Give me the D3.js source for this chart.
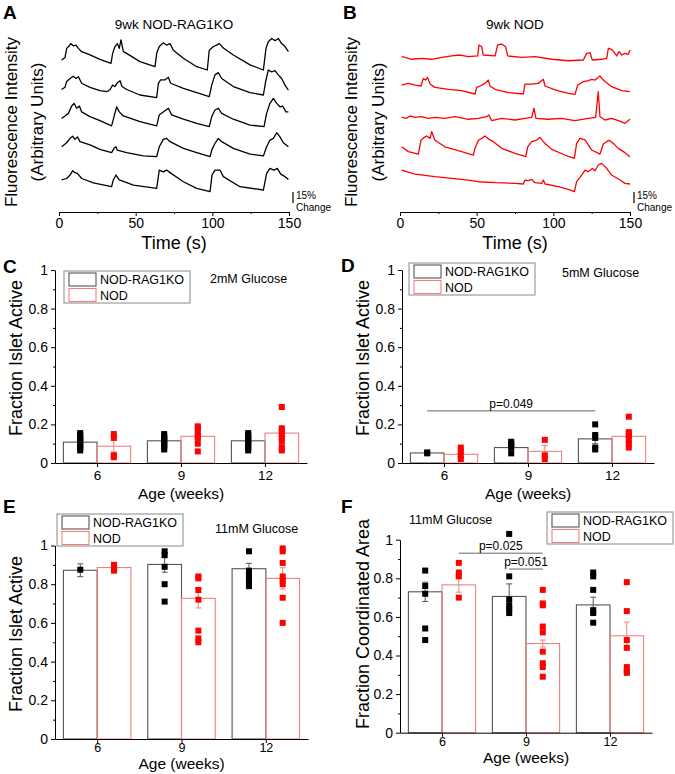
<!DOCTYPE html>
<html><head><meta charset="utf-8">
<script src="https://cdn.jsdelivr.net/npm/d3@7"></script>
<style>body{margin:0;background:#fff} svg{display:block} text{font-family:"Liberation Sans",Arial,sans-serif;fill:#000}</style>
</head><body><svg id="c" width="675" height="774"></svg>
<script>
// ---------------- DATA ----------------
// Calcium traces: [time (s), % change above trace minimum]
const tracesRag = [
 [[1.7,13.6],[3.9,17],[5.0,29.5],[6.3,32],[7.6,36],[9.3,33],[11.1,34],[12.6,29.5],[14.8,25],[20.2,20.5],[26.7,14.5],[33.9,9],[35.0,22.7],[36.5,32],[38.0,36],[39.3,29.5],[40.4,41],[42.0,25],[44.1,22.7],[52.8,11.4],[62.6,4.5],[63.7,22.7],[65.4,32],[68.0,37],[70.2,34],[72.4,36],[74.6,27],[81.1,16],[89.8,4.5],[96.7,0],[98.0,27],[100.7,32],[102.8,34],[104.6,36],[107.2,30],[113.7,20.5],[124.6,7],[133.3,0],[135.0,29.5],[136.5,38.6],[138.7,43],[140.9,40],[143.0,43],[145.2,36],[147.4,32],[149.6,25]],
 [[1.7,12],[3.9,15],[5.0,23],[7.2,27],[9.3,30],[11.1,27],[12.6,29.5],[14.8,20.5],[20.2,15],[26.7,10.5],[31.1,9],[33.3,12],[35.0,18],[36.5,16],[38.0,21],[39.8,24],[41.1,16],[44.1,12],[52.8,4.5],[63.7,1],[64.8,20.5],[66.3,25],[69.1,25],[71.3,28.6],[72.8,20.5],[81.1,13.6],[89.8,7.7],[98.0,2.3],[99.6,18],[101.7,32],[103.9,35],[106.1,27],[113.7,16],[124.6,7.7],[133.3,4.5],[134.8,23],[136.5,38.6],[138.7,36],[140.9,37.7],[143.0,32],[145.2,27],[147.4,18],[149.6,11]],
 [[1.7,12],[3.9,15.5],[6.1,19],[8.3,29],[9.8,32.7],[11.5,26],[13.3,29],[14.8,21],[20.2,14.5],[26.7,9],[34.3,2],[35.9,14.5],[37.6,28],[39.3,21],[42.0,15.5],[52.8,7.7],[63.7,2],[65.4,17],[68.0,21],[71.3,26],[73.5,17],[81.1,11],[89.8,5.5],[98.0,1],[99.6,14.5],[101.7,23.6],[103.9,26],[106.1,19],[113.7,11],[124.6,3],[133.7,1],[135.4,19],[137.6,32.7],[139.8,39.5],[142.0,32.7],[144.1,28],[145.9,29],[148.0,21],[149.6,21]],
 [[1.7,13.6],[5.0,19],[7.2,25],[8.9,28],[10.4,23.6],[12.0,27],[13.7,20.5],[20.2,16],[26.7,10],[34.3,5.5],[35.9,11.4],[37.2,13.6],[38.0,9],[44.1,5.5],[55.0,1],[63.7,0],[65.4,13.6],[68.0,23.6],[70.2,25],[72.4,20.5],[81.1,11.4],[89.8,5.5],[98.5,0],[99.8,10],[101.7,18],[103.9,25],[106.1,20.5],[113.7,11.4],[124.6,3.6],[133.3,1],[135.4,13.6],[137.6,22.7],[139.8,25],[142.0,32.7],[144.1,27],[146.3,19],[149.6,13.6]],
 [[1.7,16],[5.0,18],[7.2,22.7],[8.9,28.6],[10.4,26],[12.0,25],[14.8,18],[22.4,12],[34.3,6.8],[35.4,16],[37.2,22.7],[39.3,16],[48.5,9],[63.7,4.5],[65.4,29.5],[68.0,27],[70.2,29.5],[72.4,26],[81.1,13.6],[89.8,4.5],[98.5,0],[99.8,22.7],[101.7,29.5],[105.0,29.5],[107.2,20.5],[118.0,6.8],[133.3,2.3],[135.4,25],[137.6,31.8],[140.2,29.5],[142.4,31.8],[144.6,24],[147.4,20.5],[149.6,16.8]]
];
const tracesNod = [
 [[1.1,4.5],[3.3,3.6],[7.6,1],[14.1,2.3],[20.7,1],[27.2,3.6],[33.7,5.5],[39.1,6.8],[44.6,4.5],[50.7,5.5],[51.5,20.5],[53.3,18],[54.3,6.8],[62.0,5.5],[63.7,20.5],[66.3,21.8],[68.9,18],[70.2,5.5],[79.3,3.6],[88.0,4.5],[98.9,1],[109.8,-1],[119.6,0],[121.7,9],[123.9,10],[125.4,0],[131.5,1],[134.8,2.3],[135.9,16],[138.0,14.5],[140.2,9],[141.3,5.5],[142.8,11.4],[144.6,6.8],[146.7,9],[148.9,7.7],[150.0,13.6]],
 [[1.1,12],[5.4,14.5],[9.8,12],[13.7,10.9],[15.2,21],[16.7,19],[18.0,22.7],[19.6,13.6],[22.8,9],[31.5,6.4],[40.2,4.5],[48.9,0],[50.0,9],[52.2,10.9],[55.4,14.5],[57.6,19],[58.7,10.9],[62.0,6.4],[70.7,1.8],[80.4,0],[81.5,13.6],[85.9,13.6],[90.2,14.5],[93.5,20],[94.6,10.9],[101.1,5.5],[109.8,1],[114.1,-0.5],[115.9,12.3],[119.6,16.8],[122.8,18.2],[125.0,20],[127.2,19],[130.4,24.5],[132.6,19],[138.0,10],[144.6,4.5],[150.0,3.2]],
 [[1.1,8],[4.3,6.8],[6.5,10],[9.8,8],[14.1,9],[18.5,6.8],[22.8,8],[29.3,6.8],[35.9,9],[44.6,5.5],[51.1,6.8],[56.5,9],[58.0,11.4],[59.8,3.6],[66.3,6.8],[75.0,4.5],[81.5,6.8],[85.9,8],[87.4,20.5],[88.7,6.8],[96.7,5.5],[105.4,6.8],[114.1,3.6],[122.8,6.8],[127.6,8],[129.3,43],[130.4,9],[133.7,4.5],[138.0,6.8],[142.4,3.6],[146.7,0],[150.0,5.5]],
 [[1.1,18],[5.4,11.4],[12.0,8],[13.7,27],[15.9,30.9],[17.4,32.7],[19.6,29.5],[20.7,38.6],[22.8,27],[29.3,18],[40.2,11.4],[47.8,6.8],[48.9,15.9],[51.1,27],[53.3,29.5],[55.4,32.7],[58.0,28.2],[60.9,25],[66.3,15.9],[75.0,9],[82.0,4.5],[83.3,18],[85.9,25],[89.1,27],[91.3,30.9],[93.5,25],[98.9,14.5],[107.6,6.8],[113.7,2.3],[115.2,22.7],[117.4,29.5],[120.7,27.3],[125.0,13.6],[130.4,8],[132.6,21.8],[134.8,25],[136.3,27],[139.1,22.7],[142.4,15.9],[146.7,10],[150.0,4.5]],
 [[1.1,29.5],[9.8,24],[22.8,20.5],[33.7,18.2],[44.6,15.9],[51.1,13.6],[62.0,12.3],[75.0,11.4],[80.4,10.5],[81.5,15.9],[83.7,15],[85.9,16.8],[88.0,12.3],[92.4,11.4],[93.5,15.9],[94.6,10.5],[103.3,6.8],[109.8,3.2],[113.7,0],[115.2,13.6],[118.5,22.7],[120.7,29.5],[122.8,27.3],[125.4,31.8],[127.2,28.6],[129.3,36.4],[131.5,38.6],[134.8,31.8],[138.0,22.7],[143.5,15.9],[146.7,11.4],[150.0,10.5]]
];
const timeTicks = [0, 50, 100, 150];
const scaleBarPct = 15;

// Bar charts: ages and series
const ages = [6, 9, 12];
const seriesNames = ["NOD-RAG1KO", "NOD"];
const yTicks = [0, 0.2, 0.4, 0.6, 0.8, 1];

// C: 2mM glucose, fraction islet active
const cMeanRag = [0.108, 0.115, 0.115];
const cSemRag  = [0.012, 0.010, 0.012];
const cMeanNod = [0.087, 0.138, 0.155];
const cSemNod  = [0.030, 0.018, 0.028];
const cPtsRag = [[0.155,0.145,0.135,0.125,0.115,0.105,0.095,0.085,0.075,0.065],[0.15,0.14,0.13,0.12,0.11,0.10,0.09,0.08,0.07],[0.155,0.145,0.135,0.125,0.115,0.105,0.095,0.085,0.075,0.065]];
const cPtsNod = [[0.15,0.13,0.04,0.03],[0.19,0.18,0.16,0.14,0.13,0.10,0.06],[0.29,0.18,0.165,0.15,0.13,0.11,0.08,0.065]];

// D: 5mM glucose
const dMeanRag = [0.052, 0.080, 0.125];
const dSemRag  = [0.004, 0.012, 0.025];
const dMeanNod = [0.045, 0.060, 0.138];
const dSemNod  = [0.012, 0.030, 0.025];
const dPtsRag = [[0.055,0.05],[0.11,0.10,0.09,0.08,0.05],[0.20,0.145,0.13,0.08,0.07]];
const dPtsNod = [[0.08,0.06,0.04,0.02],[0.12,0.04,0.02],[0.24,0.16,0.15,0.14,0.12,0.10,0.08]];

// E: 11mM glucose, fraction islet active
const eMeanRag = [0.872, 0.902, 0.880];
const eSemRag  = [0.033, 0.040, 0.028];
const eMeanNod = [0.886, 0.727, 0.830];
const eSemNod  = [0.010, 0.050, 0.055];
const ePtsRag = [[0.875],[0.97,0.95,0.89,0.80,0.71],[0.97,0.87,0.85,0.83,0.81,0.79]];
const ePtsNod = [[0.90,0.89,0.88,0.87],[0.84,0.83,0.77,0.72,0.56,0.52,0.50],[0.985,0.97,0.91,0.84,0.82,0.80,0.73,0.60]];

// F: 11mM glucose, fraction coordinated area
const fMeanRag = [0.730, 0.706, 0.662];
const fSemRag  = [0.050, 0.065, 0.040];
const fMeanNod = [0.766, 0.462, 0.502];
const fSemNod  = [0.038, 0.018, 0.072];
const fPtsRag = [[0.84,0.76,0.72,0.54,0.48],[1.03,0.81,0.69,0.66,0.64,0.62],[0.83,0.81,0.74,0.635,0.62,0.57]];
const fPtsNod = [[0.88,0.83,0.81,0.70],[0.74,0.67,0.66,0.55,0.52,0.42,0.36,0.34,0.29],[0.78,0.63,0.48,0.44,0.34,0.32,0.31]];

// significance brackets: [from, to, value, label]
const dSig = [[ {age:6,s:0}, {age:12,s:0}, 0.27, "p=0.049" ]];
const fSig = [[ {age:6,s:1}, {age:9,s:1}, 0.93, "p=0.025" ], [ {age:9,s:0}, {age:9,s:1}, 0.848, "p=0.051" ]];

// ---------------- DRAWING ----------------
const svg = d3.select("#c");
const RED = "#ff0000";
const RED_EDGE = "#f08080";
const GRAY_EDGE = "#555";

function txt(g, x, y, s, size, opts={}) {
  const t = g.append("text").attr("x", x).attr("y", y).text(s).style("font-size", size + "px");
  if (opts.anchor) t.attr("text-anchor", opts.anchor);
  if (opts.bold) t.style("font-weight", "bold");
  if (opts.mid) t.attr("dominant-baseline", "central");
  if (opts.rot) t.attr("transform", `rotate(-90,${x},${y})`);
  return t;
}

function tracePanel(o) {
  const g = svg.append("g");
  const x = d3.scaleLinear().domain([0, 150]).range([o.x0, o.x1]);
  const pxPerPct = 11 / 15;
  o.traces.forEach((tr, i) => {
    const y = d3.scaleLinear().domain([0, 15]).range([o.bases[i], o.bases[i] - 15 * pxPerPct]);
    g.append("path").datum(tr)
      .attr("d", d3.line().x(d => x(d[0])).y(d => y(d[1])))
      .attr("fill", "none").attr("stroke", o.color).attr("stroke-width", 1.3).attr("stroke-linejoin", "round");
  });
  // scale bar
  const ys = d3.scaleLinear().domain([0, 15]).range([203, 203 - 15 * pxPerPct]);
  g.append("line").attr("x1", o.x1 + 4).attr("x2", o.x1 + 4).attr("y1", ys(0)).attr("y2", ys(scaleBarPct))
    .attr("stroke", "#000").attr("stroke-width", 1.2);
  txt(g, o.x1 + 7, 199, scaleBarPct + "%", 10);
  txt(g, o.x1 + 7, 211, "Change", 10);
  // axis
  const ax = g.append("g").attr("transform", `translate(0,212)`)
    .call(d3.axisBottom(x).tickValues(timeTicks).tickSize(4).tickSizeOuter(0).tickPadding(2));
  ax.selectAll("text").style("font-size", "14px").style("font-family", '"Liberation Sans",Arial,sans-serif');
  ax.selectAll("line,path").attr("stroke", "#000");
  g.append("g").attr("transform", `translate(0,212)`)
    .call(d3.axisBottom(x).tickValues([25, 75, 125]).tickSize(2).tickFormat(""))
    .call(a => a.select(".domain").remove());
  txt(g, (o.x0 + o.x1) / 2, 249, "Time (s)", 18, {anchor: "middle"});
  txt(g, (o.x0 + o.x1) / 2, 29, o.title, 13.5, {anchor: "middle"});
  txt(g, o.lx1, 122, "Fluorescence Intensity", 17, {anchor: "middle", mid: true, rot: true});
  txt(g, o.lx2, 122, "(Arbitrary Units)", 17, {anchor: "middle", mid: true, rot: true});
  txt(g, o.lx1 - 8, 19, o.letter, 19, {bold: true});
}

tracePanel({x0: 59, x1: 289, traces: tracesRag, bases: [70, 98.3, 127.3, 156.7, 191.7], color: "#000",
  title: "9wk NOD-RAG1KO", lx1: 11, lx2: 37, letter: "A"});
tracePanel({x0: 400, x1: 630, traces: tracesNod, bases: [60, 94, 123.3, 160, 191.7], color: RED,
  title: "9wk NOD", lx1: 351, lx2: 378, letter: "B"});

function barPanel(o) {
  const g = svg.append("g");
  const x = d3.scaleLinear().domain([4.5, 13.5]).range([o.x0, o.x1]);
  const y = d3.scaleLinear().domain([0, 1]).range([o.y0, o.y1]);
  const bw = 1.2;
  const series = [
    {mean: o.meanRag, sem: o.semRag, pts: o.ptsRag, off: -bw, edge: GRAY_EDGE, dot: "#000", err: "#555"},
    {mean: o.meanNod, sem: o.semNod, pts: o.ptsNod, off: 0, edge: RED_EDGE, dot: RED, err: RED_EDGE}
  ];
  const cx = (a, s) => x(a + series[s].off + bw / 2);
  series.forEach((s, si) => {
    ages.forEach((a, i) => {
      g.append("rect").attr("x", x(a + s.off)).attr("width", x(a + s.off + bw) - x(a + s.off))
        .attr("y", y(s.mean[i])).attr("height", y(0) - y(s.mean[i]))
        .attr("fill", "none").attr("stroke", s.edge).attr("stroke-width", 1.1);
    });
  });
  series.forEach((s, si) => {
    ages.forEach((a, i) => {
      const c = cx(a, si);
      const lo = y(s.mean[i] - s.sem[i]), hi = y(s.mean[i] + s.sem[i]);
      g.append("line").attr("x1", c).attr("x2", c).attr("y1", lo).attr("y2", hi).attr("stroke", s.err).attr("stroke-width", 1);
      [lo, hi].forEach(yy => g.append("line").attr("x1", c - 3).attr("x2", c + 3).attr("y1", yy).attr("y2", yy)
        .attr("stroke", s.err).attr("stroke-width", 1));
    });
  });
  series.forEach((s, si) => {
    ages.forEach((a, i) => {
      g.selectAll(null).data(s.pts[i]).enter().append("rect")
        .attr("x", cx(a, si) - 3).attr("y", d => y(d) - 3).attr("width", 6).attr("height", 6).attr("fill", s.dot);
    });
  });
  // significance
  (o.sig || []).forEach(sg => {
    const xa = cx(sg[0].age, sg[0].s), xb = cx(sg[1].age, sg[1].s), yy = y(sg[2]);
    g.append("line").attr("x1", xa).attr("x2", xb).attr("y1", yy).attr("y2", yy).attr("stroke", "#666").attr("stroke-width", 1);
    txt(g, (xa + xb) / 2, yy - 3, sg[3], 12, {anchor: "middle"});
  });
  // axes
  const fmt = d => (d === 0 ? "0" : d === 1 ? "1" : d3.format(".1f")(d));
  const ay = g.append("g").attr("transform", `translate(${o.x0},0)`)
    .call(d3.axisLeft(y).tickValues(yTicks).tickFormat(fmt).tickSize(4).tickSizeOuter(0).tickPadding(3));
  g.append("g").attr("transform", `translate(${o.x0},0)`)
    .call(d3.axisLeft(y).tickValues([0.1, 0.3, 0.5, 0.7, 0.9]).tickSize(2).tickFormat(""))
    .call(a => a.select(".domain").remove());
  const axx = g.append("g").attr("transform", `translate(0,${o.y0})`)
    .call(d3.axisBottom(x).tickValues(ages).tickSize(4).tickSizeOuter(0).tickPadding(o.xpad));
  [ay, axx].forEach(a => {
    a.selectAll("text").style("font-family", '"Liberation Sans",Arial,sans-serif');
    a.selectAll("line,path").attr("stroke", "#000");
  });
  ay.selectAll("text").style("font-size", "14px");
  axx.selectAll("text").style("font-size", o.xfs + "px");
  txt(g, (o.x0 + o.x1) / 2, o.y0 + o.agey, "Age (weeks)", 15.5, {anchor: "middle", mid: true});
  txt(g, o.ylx, o.yly, o.ylabel, 18, {anchor: "middle", mid: true, rot: true});
  txt(g, o.letterX, o.letterY, o.letter, 19, {bold: true});
  // legend
  const L = o.leg;
  g.append("rect").attr("x", L.x).attr("y", L.y).attr("width", 126).attr("height", 32)
    .attr("fill", "none").attr("stroke", "#888").attr("stroke-width", 1);
  [GRAY_EDGE, RED_EDGE].forEach((c, k) => {
    g.append("rect").attr("x", L.x + 5).attr("y", L.y + 2 + k * 15.5).attr("width", 27).attr("height", 13)
      .attr("fill", "none").attr("stroke", c).attr("stroke-width", 1.1);
    txt(g, L.x + 36, L.y + 9 + k * 15.5, seriesNames[k], 12.5, {mid: true});
  });
  txt(g, o.gx, o.gy, o.glucose, 12.5, {mid: true});
}

barPanel({x0: 55, x1: 307, y0: 463, y1: 270, meanRag: cMeanRag, semRag: cSemRag, meanNod: cMeanNod, semNod: cSemNod,
  ptsRag: cPtsRag, ptsNod: cPtsNod, xpad: 3, xfs: 13.5, agey: 30, ylx: 16, yly: 358, ylabel: "Fraction Islet Active",
  letter: "C", letterX: 3, letterY: 273, leg: {x: 64, y: 271}, glucose: "2mM Glucose", gx: 210, gy: 279});
barPanel({x0: 402, x1: 654, y0: 463, y1: 270, meanRag: dMeanRag, semRag: dSemRag, meanNod: dMeanNod, semNod: dSemNod,
  ptsRag: dPtsRag, ptsNod: dPtsNod, xpad: 3, xfs: 13.5, agey: 30, ylx: 363, yly: 358, ylabel: "Fraction Islet Active", sig: dSig,
  letter: "D", letterX: 341, letterY: 272, leg: {x: 409, y: 263}, glucose: "5mM Glucose", gx: 562, gy: 273});
barPanel({x0: 55, x1: 308, y0: 739, y1: 545.5, meanRag: eMeanRag, semRag: eSemRag, meanNod: eMeanNod, semNod: eSemNod,
  ptsRag: ePtsRag, ptsNod: ePtsNod, xpad: 0, xfs: 12.5, agey: 24, ylx: 16, yly: 634, ylabel: "Fraction Islet Active",
  letter: "E", letterX: 3, letterY: 513, leg: {x: 57, y: 514}, glucose: "11mM Glucose", gx: 215, gy: 529});
barPanel({x0: 400, x1: 652, y0: 732.7, y1: 539.7, meanRag: fMeanRag, semRag: fSemRag, meanNod: fMeanNod, semNod: fSemNod,
  ptsRag: fPtsRag, ptsNod: fPtsNod, xpad: 0, xfs: 12.5, agey: 24.5, ylx: 363, yly: 624, ylabel: "Fraction Coordinated Area", sig: fSig,
  letter: "F", letterX: 341, letterY: 513, leg: {x: 547, y: 512}, glucose: "11mM Glucose", gx: 409, gy: 520});
</script></body></html>
